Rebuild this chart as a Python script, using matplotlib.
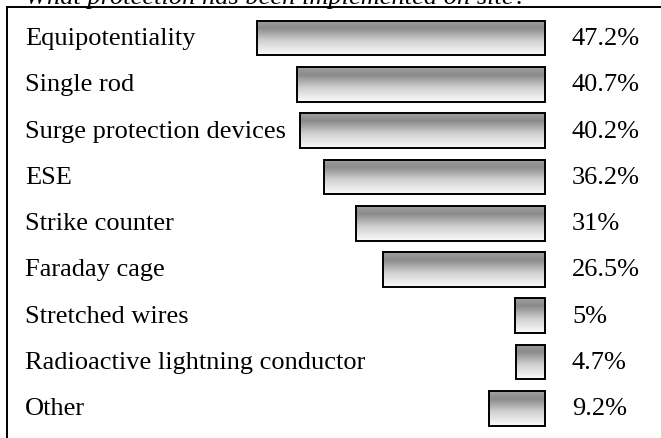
import numpy as np
import matplotlib
matplotlib.use("Agg")
import matplotlib.pyplot as plt
from matplotlib.colors import LinearSegmentedColormap

title = "What protection has been implemented on site?"
categories = ["Equipotentiality", "Single rod", "Surge protection devices", "ESE",
              "Strike counter", "Faraday cage", "Stretched wires",
              "Radioactive lightning conductor", "Other"]
values = [47.2, 40.7, 40.2, 36.2, 31, 26.5, 5, 4.7, 9.2]
value_labels = ["47.2%", "40.7%", "40.2%", "36.2%", "31%", "26.5%", "5%", "4.7%", "9.2%"]

W, H = 661, 439
DPI = 100
plt.rcParams['font.family'] = ['Liberation Serif', 'DejaVu Serif']
fig = plt.figure(figsize=(W / DPI, H / DPI), dpi=DPI)

# axes region in pixels
left_px, top_px = 7, 8
ax = fig.add_axes([left_px / W, 0, 1 - left_px / W, 1 - top_px / H])

px_per_unit = 6.1
zero_px = 545
xmin = -(zero_px - left_px) / px_per_unit
xmax = (W - zero_px) / px_per_unit

cmap = LinearSegmentedColormap.from_list(
    "grad", [(0.0, "#a0a0a0"), (0.22, "#8a8a8a"), (0.6, "#d2d2d2"), (1.0, "#fbfbfb")])
grad = np.linspace(0, 1, 64).reshape(-1, 1)

bar_h = 0.75
n = len(categories)
ypos = np.arange(n)
bars = ax.barh(ypos, [-v for v in values], left=0, height=bar_h,
               facecolor="none", edgecolor="black", linewidth=1.4, zorder=3)
for b in bars:
    x0, y0 = b.get_x(), b.get_y()
    w, h = b.get_width(), b.get_height()
    im = ax.imshow(grad, cmap=cmap, vmin=0, vmax=1, aspect="auto",
                   extent=[x0, x0 + w, y0 + h, y0], origin="upper", zorder=2,
                   interpolation="bilinear")
    im.set_clip_path(b)

fs = 19
lab_x = (25 - left_px) / (W - left_px)
for i, (c, lbl) in enumerate(zip(categories, value_labels)):
    ax.text(lab_x, i, c, transform=ax.get_yaxis_transform(), ha="left",
            va="center", fontsize=fs, color="black")
    ax.text((572 - zero_px) / px_per_unit, i, lbl, ha="left", va="center",
            fontsize=fs, color="black")

row_px = 46.3
ax.set_xlim(xmin, xmax)
ax.set_ylim(n - 1 + (H - (39 + row_px * (n - 1))) / row_px, -(39 - top_px) / row_px)
ax.set_xticks([])
ax.set_yticks([])
for s in ["right", "bottom"]:
    ax.spines[s].set_visible(False)
for s in ["left", "top"]:
    ax.spines[s].set_linewidth(1.4)

fig.text(25 / W, 1 - 4 / H, title, ha="left", va="baseline", fontsize=fs,
         style="italic")

fig.savefig("out.png", dpi=DPI)
